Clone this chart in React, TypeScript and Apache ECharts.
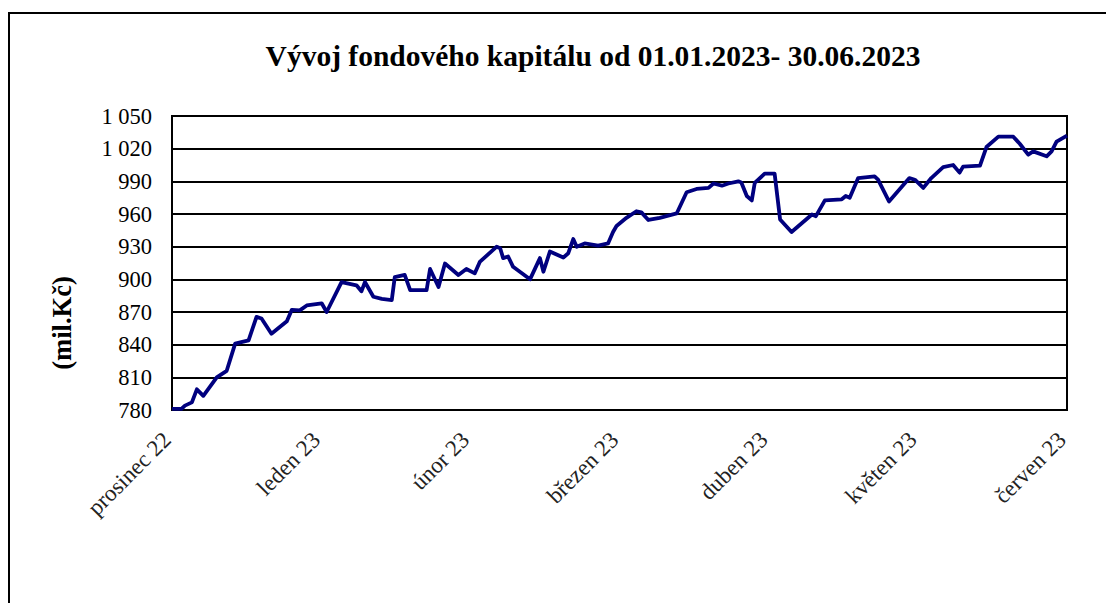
import React, { useEffect, useRef } from "react";
import * as echarts from "echarts";

const TITLE = "Vývoj fondového kapitálu od 01.01.2023- 30.06.2023";
const Y_NAME = "(mil.Kč)";
const MONTH_LABELS = ["prosinec 22", "leden 23", "únor 23", "březen 23", "duben 23", "květen 23", "červen 23"];
const Y_TICKS = [780, 810, 840, 870, 900, 930, 960, 990, 1020, 1050];

// day offset within the period (0..180) and fund capital in mil. Kč
const days = [
  0, 1.9, 2.6, 4.0, 5.0, 6.3, 9.0, 11.0, 12.7, 15.4, 17.0, 18.0, 20.0, 23.1, 24.1, 25.7, 27.1, 30.1, 31.1,
  34.1, 37.1, 38.1, 38.8, 40.5, 42.2, 44.2, 44.8, 46.8, 47.9, 51.2, 51.9, 53.6, 54.9, 57.6, 59.2, 60.9,
  61.9, 65.3, 66.0, 66.6, 67.6, 68.6, 72.0, 74.0, 74.7, 76.0, 78.7, 79.7, 80.7, 81.4, 83.0, 85.7, 87.7,
  88.7, 89.4, 91.4, 93.4, 94.4, 95.8, 98.1, 101.5, 103.5, 105.5, 107.9, 108.9, 110.6, 111.9, 113.9, 114.5,
  115.6, 116.6, 117.2, 119.2, 121.2, 122.3, 124.6, 128.7, 129.5, 131.3, 134.7, 135.5, 136.3, 138.0, 141.3,
  142.0, 144.2, 148.3, 149.4, 151.1, 152.7, 155.1, 157.1, 158.4, 159.1, 162.5, 163.8, 166.2, 169.2, 170.5,
  172.2, 173.2, 175.9, 176.9, 177.9, 180,
];
const capital = [
  781, 781, 784, 787, 799, 793, 810, 816, 841, 844, 865.5, 864, 850, 861.5, 872, 871.5, 876, 878, 870,
  897.5, 894.5, 889, 897.5, 884, 882, 881, 902, 904, 890, 890, 909.5, 893, 914.5, 904, 909.5, 905.5,
  916, 930, 928.5, 919.5, 921, 911.5, 900, 919.5, 907, 925.5, 920, 924, 937, 930, 933, 931, 933,
  943.5, 949, 956.5, 962.5, 961.5, 954.5, 956.5, 960.5, 980, 983, 984, 988, 986, 988, 990, 989,
  976.5, 972.5, 988.5, 997, 997, 955, 943.5, 959.5, 958, 972.5, 973.5, 976.5, 975, 993, 994.5,
  991.5, 971.5, 993, 991.5, 984, 993, 1003, 1005, 998, 1003.5, 1004.5, 1021.5, 1031, 1031, 1024.5,
  1014.5, 1017.5, 1013, 1017.5, 1026.5, 1032,
];

const FONT = '"Liberation Serif", "Times New Roman", serif';

function fmtY(v: number): string {
  if (v >= 1000) return Math.floor(v / 1000) + " " + String(v % 1000).padStart(3, "0");
  return String(v);
}

export default function App() {
  const ref = useRef<HTMLDivElement>(null);
  useEffect(() => {
    if (!ref.current) return;
    const chart = echarts.init(ref.current, undefined, { renderer: "svg" });
    chart.setOption({
      animation: false,
      backgroundColor: "#ffffff",
      title: {
        text: TITLE,
        left: 588,
        textAlign: "center",
        top: 36,
        textStyle: { fontFamily: FONT, fontWeight: "bold", fontSize: 29.5, color: "#000" },
      },
      graphic: [
        {
          type: "rect",
          shape: { x: 9, y: 13, width: 1120, height: 640 },
          style: { fill: "none", stroke: "#000", lineWidth: 2 },
          silent: true,
        },
        {
          type: "text",
          x: 62,
          y: 323,
          rotation: Math.PI / 2,
          style: {
            text: Y_NAME,
            fontFamily: FONT,
            fontWeight: "bold",
            fontSize: 26.5,
            fill: "#000",
            align: "center",
            verticalAlign: "middle",
          },
        },
      ],
      grid: {
        left: 172,
        top: 116,
        right: 39,
        bottom: 193,
        show: true,
        borderColor: "#000",
        borderWidth: 2,
        backgroundColor: "transparent",
      },
      xAxis: {
        type: "value",
        min: 0,
        max: 180,
        interval: 30,
        axisLine: { show: true, lineStyle: { color: "#000", width: 2 } },
        axisTick: { show: false },
        splitLine: { show: false },
        axisLabel: {
          rotate: 45,
          margin: 21,
          padding: [0, 7, 0, 0],
          fontFamily: FONT,
          fontSize: 23,
          color: "#222",
          formatter: (v: number) => MONTH_LABELS[Math.round(v / 30)] ?? "",
        },
      },
      yAxis: {
        type: "value",
        min: Y_TICKS[0],
        max: Y_TICKS[Y_TICKS.length - 1],
        interval: 30,
        axisLine: { show: true, lineStyle: { color: "#000", width: 2 } },
        axisTick: { show: false },
        splitLine: { show: true, lineStyle: { color: "#000", width: 2 } },
        axisLabel: {
          margin: 20,
          fontFamily: FONT,
          fontSize: 22.5,
          color: "#000",
          formatter: (v: number) => fmtY(v),
        },
      },
      series: [
        {
          type: "line",
          data: days.map((d, i) => [d, capital[i]]),
          showSymbol: false,
          symbol: "none",
          lineStyle: { color: "#00007f", width: 3.8, join: "round" },
        },
      ],
    });
    return () => chart.dispose();
  }, []);
  return (
    <div
      ref={ref}
      style={{ position: "fixed", left: 0, top: 0, width: 1106, height: 603 }}
    />
  );
}
